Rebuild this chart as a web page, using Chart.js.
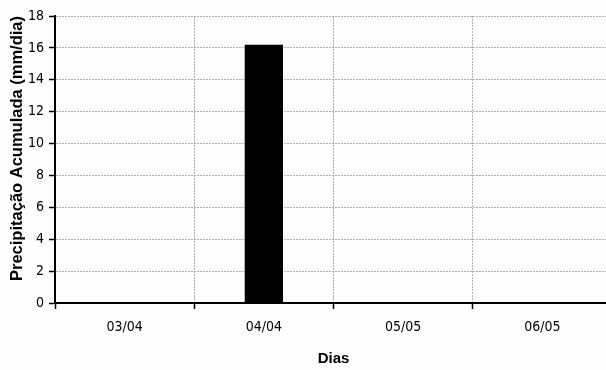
<!DOCTYPE html>
<html>
<head>
<meta charset="utf-8">
<script src="https://cdn.jsdelivr.net/npm/chart.js@4/dist/chart.umd.min.js"></script>
<style>
  html, body { margin: 0; padding: 0; overflow: hidden; background: #fdfdfd; }
  canvas { display: block; }
</style>
</head>
<body>
<canvas id="chuvaChart" width="620" height="370"></canvas>
<script>
const dias = ['03/04', '04/04', '05/05', '06/05'];
const precipitacao = [0, 16.2, 0, 0];
const yTicks = [0, 2, 4, 6, 8, 10, 12, 14, 16, 18];

const narrow = "'Liberation Sans Narrow', 'DejaVu Sans Condensed', sans-serif";
const bold = "'Liberation Sans', Arial, sans-serif";

const ctx = document.getElementById('chuvaChart').getContext('2d');
new Chart(ctx, {
    type: 'bar',
    data: {
        labels: dias,
        datasets: [{
            label: 'Precipitação',
            data: precipitacao,
            backgroundColor: '#000000',
            borderWidth: 0,
            barPercentage: 0.275,
            categoryPercentage: 1
        }]
    },
    options: {
        responsive: false,
        animation: false,
        layout: { padding: { left: 0, top: 16, right: 8, bottom: 0 } },
        plugins: {
            legend: { display: false },
            tooltip: { enabled: false }
        },
        scales: {
            x: {
                offset: true,
                grid: {
                    offset: true,
                    color: '#b0b0b0',
                    lineWidth: 1,
                    tickLength: 6,
                    tickColor: '#000',
                    tickWidth: 1.5
                },
                border: { color: '#000', width: 2, dash: [2, 1] },
                ticks: {
                    color: '#000',
                    padding: 10,
                    maxRotation: 0,
                    font: { family: narrow, size: 14 }
                },
                title: {
                    display: true,
                    text: 'Dias',
                    color: '#000',
                    padding: { top: 0, bottom: 2 },
                    font: { family: bold, size: 15, weight: 'bold' }
                },
                afterFit: function(scale) { scale.height = 67; }
            },
            y: {
                min: 0,
                max: 18,
                afterBuildTicks: function(scale) {
                    scale.ticks = yTicks.map(v => ({ value: v }));
                },
                grid: {
                    color: '#b0b0b0',
                    lineWidth: 1,
                    tickLength: 6,
                    tickColor: '#000',
                    tickWidth: 1.5
                },
                border: { color: '#000', width: 2, dash: [2, 1] },
                ticks: {
                    color: '#000',
                    padding: 5,
                    font: { family: narrow, size: 14 }
                },
                title: {
                    display: true,
                    text: 'Precipitação Acumulada (mm/dia)',
                    color: '#000',
                    align: 'end',
                    padding: { top: 8, bottom: 0 },
                    font: { family: bold, size: 16.5, weight: 'bold' }
                },
                afterFit: function(scale) { scale.width = 55; }
            }
        }
    }
});
</script>
</body>
</html>
